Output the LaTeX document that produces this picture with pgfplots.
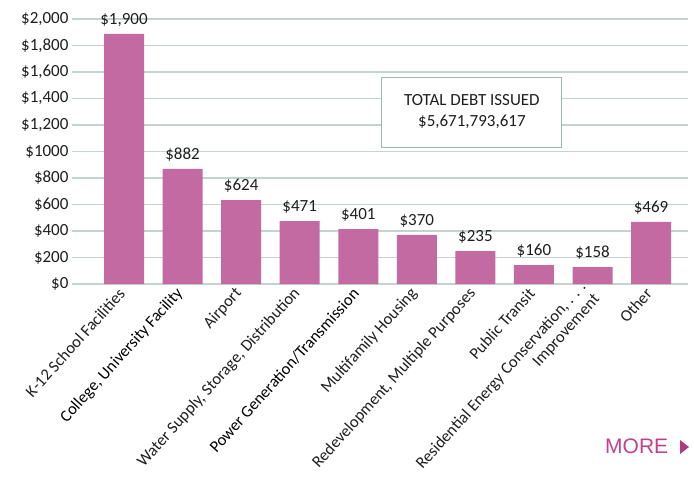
\documentclass[border=0pt]{standalone}
\usepackage{pgfplots}
\pgfplotsset{compat=1.18}
\usepackage{pgfplotstable}
\usepackage{fontspec}
\setmainfont{Carlito}
\newfontfamily\arialfont{Liberation Sans}
\definecolor{barpink}{HTML}{C46AA3}
\definecolor{gridc}{HTML}{C3D4CF}
\definecolor{boxc}{HTML}{9DB8B0}
\definecolor{txt}{HTML}{1E1E1E}
\definecolor{morec}{HTML}{C2418F}

% x, bar height, printed label value
\pgfplotstableread{
x y lab
0 1887 1900
1 868 882
2 634 624
3 475 471
4 415 401
5 370 370
6 249 235
7 143 160
8 128 158
9 468 469
}\debt

\begin{document}
\begin{tikzpicture}
\useasboundingbox (-72pt,-199pt) rectangle (622pt,284pt);
\begin{axis}[
    at={(0,0)}, anchor=south west,
    scale only axis,
    width=616pt, height=265pt,
    xmin=-0.888, xmax=9.63,
    ymin=0, ymax=2000,
    ytick={0,200,...,2000},
    yticklabels={{\$0},{\$200},{\$400},{\$600},{\$800},{\$1000},{\$1,200},{\$1,400},{\$1,600},{\$1,800},{\$2,000}},
    xtick={0,...,9},
    xticklabels={
        {K-12 School Facilities},
        {\textcolor{black}{College, University Facility}},
        {Airport},
        {Water Supply, Storage, Distribution},
        {\textcolor{black}{Power Generation/Transmission}},
        {Multifamily Housing},
        {Redevelopment, Multiple Purposes},
        {Public Transit},
        {Residential Energy Conservation, . . .\\Improvement},
        {Other}},
    ymajorgrids,
    grid style={gridc, line width=1.2pt},
    axis line style={draw=none},
    tick style={draw=none},
    yticklabel style={font=\fontsize{17}{19}\selectfont, text=txt},
    xticklabel style={font=\fontsize{16.5}{18}\selectfont, text=txt, rotate=48, anchor=east, align=right},
    ybar, bar width=40pt,
    nodes near coords={\$\pgfmathprintnumber[fixed,precision=0,1000 sep={,},assume math mode=true]{\pgfplotspointmeta}},
    nodes near coords style={font=\fontsize{17}{19}\selectfont, text=txt, anchor=south, inner sep=3pt, yshift=4pt},
    point meta=explicit,
    clip=false,
]
\addplot[fill=barpink, draw=none] table[x=x, y=y, meta=lab] {\debt};
\node[draw=boxc, line width=1pt, fill=white, minimum width=180pt, minimum height=70pt,
      align=center, text=txt, font=\fontsize{17}{21}\selectfont]
    at (axis cs:5.94,1298) {TOTAL DEBT ISSUED\\\$5,671,793,617};
\end{axis}
\node[anchor=base west, inner sep=0pt, text=morec, font=\arialfont\fontsize{21}{24}\selectfont] at (533pt,-169pt) {MORE};
\fill[morec!90!black] (608pt,-156pt) -- (617pt,-163pt) -- (608pt,-170pt) -- cycle;
\end{tikzpicture}
\end{document}
